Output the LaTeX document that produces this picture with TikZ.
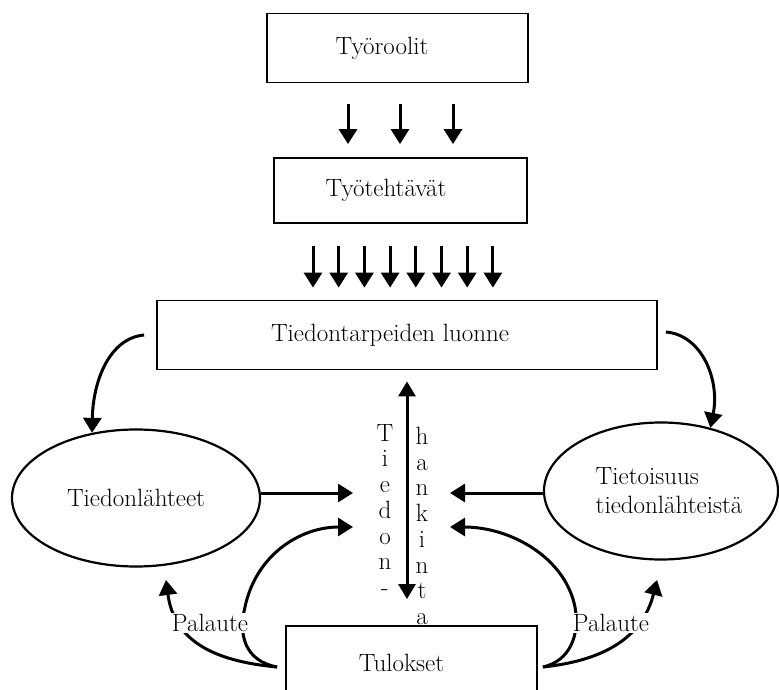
\documentclass[tikz,border=0pt]{standalone}
\usepackage{fontspec}
\usetikzlibrary{arrows.meta,shapes.geometric}

\begin{document}
\begin{tikzpicture}[x=1pt,y=-1pt]
    \tikzset{%
      box/.style={draw, line width=1.8pt, inner sep=0pt,
        font=\fontsize{25}{29}\selectfont},
      oval/.style={ellipse, draw, line width=2.2pt, inner sep=0pt,
        font=\fontsize{25}{29}\selectfont},
      arr/.style={line width=3pt, -{Triangle[length=15pt,width=18pt]}},
      darr/.style={line width=3pt,
        {Triangle[length=15pt,width=17pt]}-{Triangle[length=15pt,width=17pt]}},
      vtext/.style={align=center, inner sep=0pt, anchor=north,
        font=\fontsize{25}{25.7}\selectfont},
      lbl/.style={fill=white, inner sep=1pt,
        font=\fontsize{25}{29}\selectfont},
    }
    \useasboundingbox (0,0) rectangle (779,690);

    \node[box, minimum width=261pt, minimum height=69pt] (roolit) at (397.5,48) {Työroolit\hspace*{31pt}};
    \node[box, minimum width=253pt, minimum height=65pt] (tehtavat) at (400.5,190.5) {Työtehtävät\hspace*{29pt}};
    \node[box, minimum width=500pt, minimum height=69pt] (luonne) at (407,335) {Tiedontarpeiden luonne\hspace*{34pt}};
    \node[oval, minimum width=248pt, minimum height=137pt] (lahteet) at (136,498) {Tiedonlähteet};
    \node[oval, minimum width=234pt, minimum height=137pt, inner xsep=-12pt, align=left] (tietoisuus) at (661,491)
      {\hspace*{16pt}Tietoisuus\\\hspace*{16pt}tiedonlähteistä};
    \node[box, minimum width=251pt, minimum height=74pt] (tulokset) at (411.5,663) {Tulokset\hspace*{20pt}};

    \foreach \x in {348,400,453}
      \draw[arr, shorten <=21pt, shorten >=13pt] (roolit.south -| \x,0) -- (tehtavat.north -| \x,0);
    \foreach \i in {0,...,7}
      \draw[arr, shorten <=22pt, shorten >=12pt]
        (tehtavat.south -| 313+25.7*\i,0) -- (luonne.north -| 313+25.7*\i,0);

    % tiedonhankinta
    \draw[darr, shorten <=11pt, shorten >=26pt] (luonne.south -| 407,0) -- (tulokset.north -| 407,0);
    \node[vtext] (tiedon) at (385,424) {T\\i\\e\\d\\o\\n\\-};
    \node[vtext] (hankinta) at (422,427) {h\\a\\n\\k\\i\\n\\t\\a};

    \coordinate (inL) at (353,493);
    \coordinate (inL2) at (353,527);
    \coordinate (inR) at (450,493);
    \coordinate (inR2) at (450,527);
    \coordinate (fbL) at (166,580);
    \coordinate (fbR) at (657,580);

    \draw[arr] (luonne.west) ++(-12,0) .. controls (110,338) and (93,380) .. (lahteet.124);
    \draw[arr] (luonne.east) ++(8,-3) .. controls (702,335) and (720,380) .. (tietoisuus.52);
    \draw[arr] (lahteet.east |- inL) -- (inL);
    \draw[arr] (tietoisuus.west |- inR) -- (inR);

    % palaute
    \draw[arr] ([xshift=-8pt,yshift=-4pt]tulokset.west) .. controls (245,661) and (238,635) .. (245,607)
      .. controls (256,555) and (300,527) .. (inL2);
    \draw[arr] ([xshift=-8pt,yshift=-4pt]tulokset.west) .. controls (212,661) and (174,640) .. (fbL);
    \draw[arr] ([xshift=5pt,yshift=-4pt]tulokset.east) .. controls (570,661) and (580,635) .. (575,607)
      .. controls (565,557) and (510,527) .. (inR2);
    \draw[arr] ([xshift=5pt,yshift=-4pt]tulokset.east) .. controls (600,661) and (642,640) .. (fbR);
    \node[lbl] (palauteL) at (210,623) {Palaute};
    \node[lbl] (palauteR) at (611,623) {Palaute};
\end{tikzpicture}
\end{document}
